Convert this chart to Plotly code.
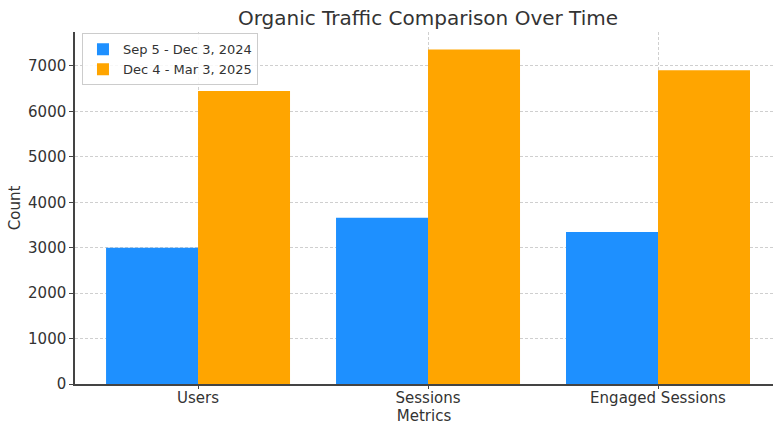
import plotly.graph_objects as go

categories = ["Users", "Sessions", "Engaged Sessions"]
period1_label = "Sep 5 - Dec 3, 2024"
period2_label = "Dec 4 - Mar 3, 2025"
period1_values = [3000, 3660, 3345]
period2_values = [6450, 7365, 6905]
y_ticks = [0, 1000, 2000, 3000, 4000, 5000, 6000, 7000]

x_idx = list(range(len(categories)))
bw = 0.4

fig = go.Figure()
fig.add_trace(go.Bar(
    x=[i - bw / 2 for i in x_idx], y=period1_values, width=bw,
    name=period1_label, marker=dict(color="#1E90FF", line=dict(width=0)),
))
fig.add_trace(go.Bar(
    x=[i + bw / 2 for i in x_idx], y=period2_values, width=bw,
    name=period2_label, marker=dict(color="#FFA500", line=dict(width=0)),
))

font = "DejaVu Sans, Arial, sans-serif"
fig.update_layout(
    width=773, height=425,
    margin=dict(l=75, r=0, t=32, b=41),
    paper_bgcolor="white", plot_bgcolor="white",
    barmode="overlay",
    font=dict(family=font, size=15, color="#333333"),
    title=dict(text="Organic Traffic Comparison Over Time", x=(428 / 773), xanchor="center",
               y=1 - 18 / 425, yanchor="middle", font=dict(size=20, color="#333333")),
    legend=dict(x=0.01, y=0.996, xanchor="left", yanchor="top",
                bgcolor="rgba(255,255,255,0.85)", bordercolor="#cccccc", borderwidth=1,
                font=dict(size=13, color="#333333"), itemwidth=30, tracegroupgap=0),
    showlegend=True,
)
fig.update_xaxes(
    range=[-0.535, 2.5], tickmode="array", tickvals=x_idx, ticktext=categories,
    showgrid=True, gridcolor="#cfcfcf", griddash="3px,2px", gridwidth=1,
    showline=True, linecolor="#444444", linewidth=1.5,
    ticks="outside", ticklen=3, tickcolor="#444444", ticklabelstandoff=-4,
    title=dict(text="Metrics", standoff=0, font=dict(size=15)),
    zeroline=False,
)
fig.update_yaxes(
    range=[0, 7748], tickmode="array", tickvals=y_ticks,
    showgrid=True, gridcolor="#cfcfcf", griddash="3px,2px", gridwidth=1,
    showline=True, linecolor="#444444", linewidth=1.5,
    ticks="outside", ticklen=4, tickcolor="#444444",
    title=dict(text="Count", standoff=4, font=dict(size=15)),
    zeroline=False,
)

fig.write_html("out.html")
